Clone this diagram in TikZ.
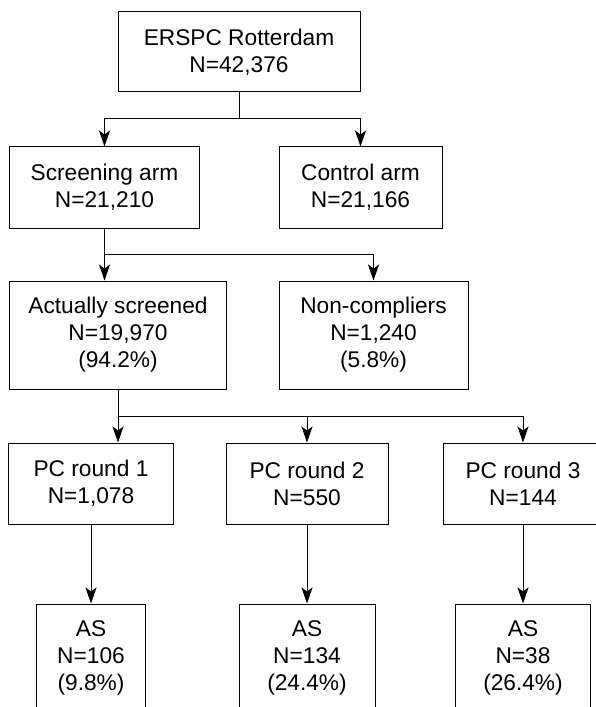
\documentclass[tikz,border=0pt]{standalone}
\usepackage{fontspec}
\setmainfont{Liberation Sans}
\usetikzlibrary{arrows.meta}

\begin{document}
\begin{tikzpicture}[x=1bp,y=-1bp,line width=1bp,
	>={Stealth[length=16bp,width=11bp,inset=4bp]},
	box/.style={draw,align=center,inner sep=0pt,minimum height=81bp,
		font=\fontsize{22.7bp}{27bp}\selectfont}]
	\useasboundingbox (0,0) rectangle (596,707);
	\clip (0,0) rectangle (596,707);
	\node[box,minimum width=242bp,minimum height=80bp] (top) at (239,52) {ERSPC Rotterdam\\N=42,376};
	\node[box,minimum width=189bp] (screen) at (104.5,187.5) {Screening arm\\N=21,210};
	\node[box,minimum width=163bp] (control) at (360.5,187.5) {Control arm\\N=21,166};
	\node[box,minimum width=216bp,minimum height=108bp] (actual) at (118,335) {Actually screened\\N=19,970\\(94.2\%)};
	\node[box,minimum width=189bp,minimum height=108bp] (noncomp) at (373.5,335) {Non-compliers\\N=1,240\\(5.8\%)};
	\node[box,minimum width=164bp] (pc1) at (91,483.5) {PC round 1\\N=1,078};
	\node[box,minimum width=162bp] (pc2) at (307,483.5) {PC round 2\\N=550};
	\node[box,minimum width=160bp] (pc3) at (523,483.5) {PC round 3\\N=144};
	\node[box,minimum width=108bp,minimum height=108bp] (as1) at (91,658) {AS\\N=106\\(9.8\%)};
	\node[box,minimum width=136bp,minimum height=108bp] (as2) at (307,658) {AS\\N=134\\(24.4\%)};
	\node[box,minimum width=135bp,minimum height=108bp] (as3) at (523,658) {AS\\N=38\\(26.4\%)};
	\coordinate (j1) at (239,119);
	\coordinate (j2) at (104.5,254);
	\coordinate (j3) at (118,416);
	\draw (top) -- (j1);
	\draw[->] (j1) -| (screen);
	\draw[->] (j1) -| (control);
	\draw (screen) -- (j2);
	\draw[->] (j2) -- (actual.north -| j2);
	\draw[->] (j2) -| (noncomp);
	\draw (actual) -- (j3);
	\draw[->] (j3) -- (pc1.north -| j3);
	\draw[->] (j3) -| (pc2);
	\draw[->] (j3) -| (pc3);
	\foreach \i in {1,2,3}
		\draw[->] (pc\i) -- (as\i);
\end{tikzpicture}
\end{document}
